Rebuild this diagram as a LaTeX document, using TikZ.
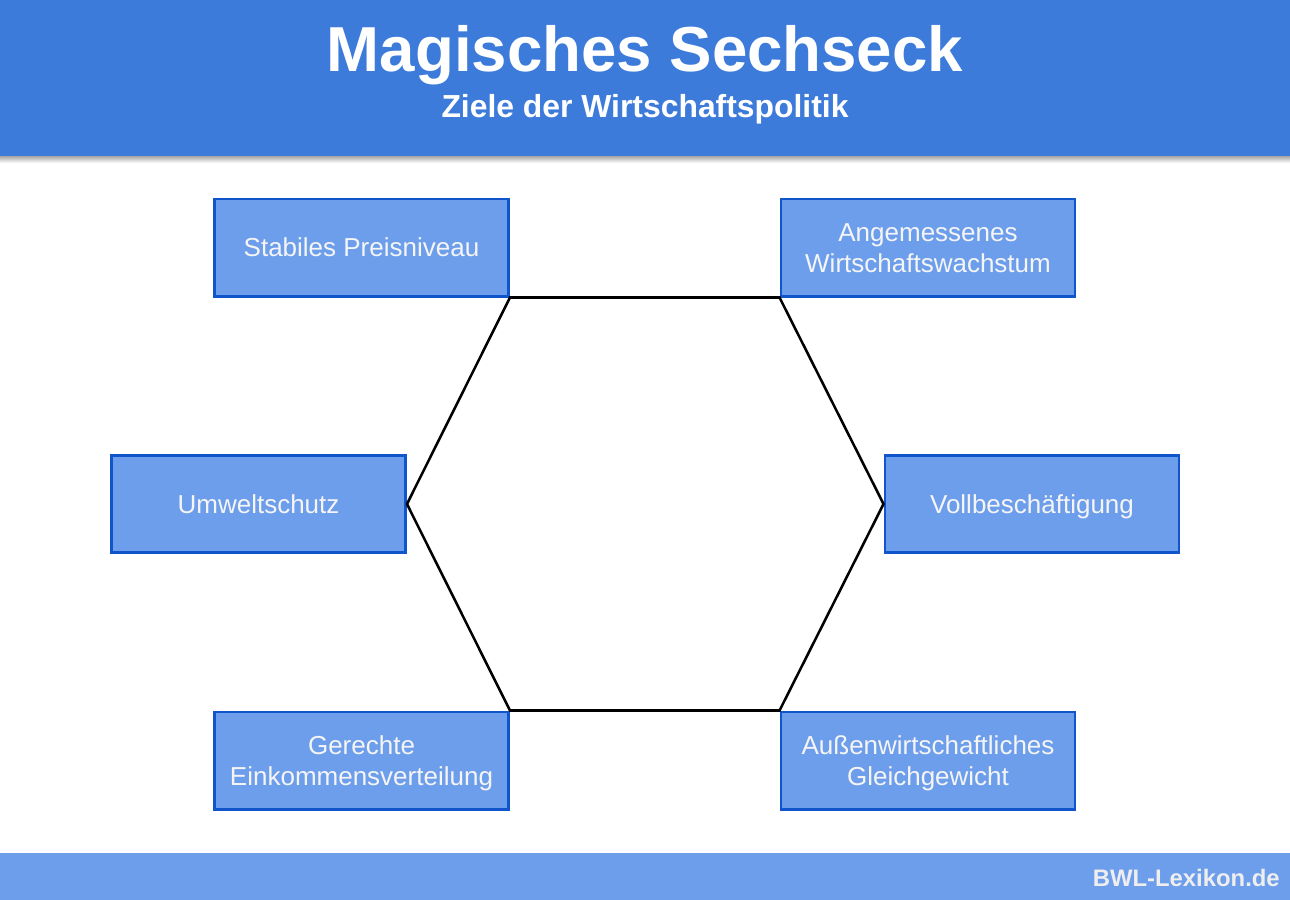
\documentclass[tikz,border=0pt]{standalone}
\usepackage{fontspec}
\setmainfont{Liberation Sans}
\definecolor{headblue}{HTML}{3D7BDB}
\definecolor{boxfill}{HTML}{6D9EEB}
\definecolor{boxline}{HTML}{1155CC}
\definecolor{boxtext}{HTML}{F5F5F5}
\definecolor{foottext}{HTML}{EEEEEE}
\newcommand\capln[1]{\smash{#1}\rule{0pt}{0.716em}}
\tikzset{
  goal/.style={draw=boxline, fill=boxfill, line width=2pt, minimum width=220.7pt, minimum height=73pt,
    inner sep=0pt, align=center, text=boxtext, font=\fontsize{19.5pt}{23.6pt}\selectfont},
  hexline/.style={line width=1.9pt, black, line join=miter},
  titletext/.style={text=white, font=\fontsize{47.7pt}{52pt}\selectfont\bfseries, inner sep=0pt},
  subtext/.style={text=white, font=\fontsize{23.9pt}{28pt}\selectfont\bfseries, inner sep=0pt},
  foottxt/.style={text=foottext, font=\fontsize{17.9pt}{21pt}\selectfont\bfseries, inner sep=0pt}
}
\begin{document}
\begin{tikzpicture}[x=0.75pt,y=-0.75pt]
\useasboundingbox (0,0) rectangle (1290,900);
\fill[white] (0,0) rectangle (1290,900);
% header with shadow
\shade[top color=black!35, bottom color=white] (0,156) rectangle (1290,163);
\fill[headblue] (0,0) rectangle (1290,156);
\node[titletext, anchor=base] (title) at (645,71) {Magisches Sechseck};
\node[subtext, anchor=base] (sub) at (645,117) {Ziele der Wirtschaftspolitik};
% footer
\fill[boxfill] (0,853) rectangle (1290,900);
\node[foottxt, anchor=base east] (foot) at (1280,886) {BWL-Lexikon.de};
% goals
\node[goal] (sp) at (361.5,247.5) {\capln{Stabiles Preisniveau}};
\node[goal] (aw) at (928,247.5) {\capln{Angemessenes}\\\capln{Wirtschaftswachstum}};
\node[goal] (um) at (258.5,504) {\capln{Umweltschutz}};
\node[goal] (vb) at (1032,504) {\capln{Vollbeschäftigung}};
\node[goal] (ge) at (361.5,760.5) {\capln{Gerechte}\\\capln{Einkommensverteilung}};
\node[goal] (au) at (928,760.5) {\capln{Außenwirtschaftliches}\\\capln{Gleichgewicht}};
% hexagon
\draw[hexline] (sp.south east) -- (aw.south west) -- (vb.west) -- (au.north west)
  -- (ge.north east) -- (um.east) -- cycle;
\end{tikzpicture}
\end{document}
